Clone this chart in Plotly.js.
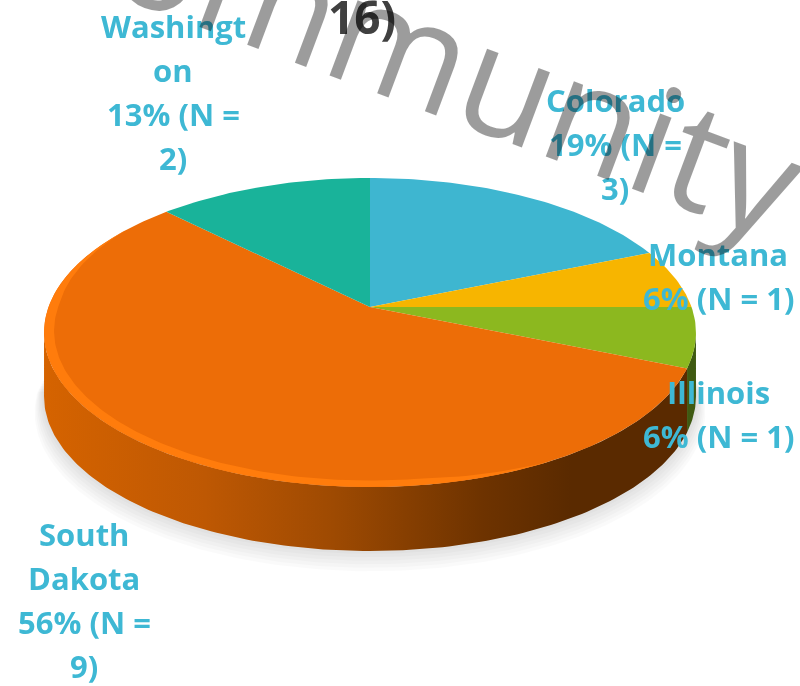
<!DOCTYPE html>
<html><head><meta charset="utf-8">
<script src="https://cdn.plot.ly/plotly-3.0.1.min.js"></script>
<style>html,body{margin:0;padding:0;background:#fff}#c{width:800px;height:686px}.main-svg{filter:blur(0.55px)}</style>
</head><body><div id="c"></div>
<script>
const categories = ['Colorado','Montana','Illinois','South Dakota','Washington'];
const counts = [3,1,1,9,2];
const sliceColors = ['#3EB6D0','#F7B500','#8CB81F','#ED6D07','#19B39A'];
const labelLines = [
  ['Colorado','19% (N =','3)'],
  ['Montana','6% (N = 1)'],
  ['Illinois','6% (N = 1)'],
  ['South','Dakota','56% (N =','9)'],
  ['Washingt','on','13% (N =','2)']
];
const labelX = [615,718,718,84,173];
const labelTop = [100,254,392,534,26];
const titleText = '16)';
const watermark = 'Community';

// view of the tilted disc
const cx=370, cy=307, a=321.5, b=150.3, k=0.165, depth=64;
const total = counts.reduce((s,v)=>s+v,0);
function P(share,r,dz){ // share: fraction of the circle clockwise from the top
  const t=share*2*Math.PI, u=r*Math.sin(t), v=r*Math.cos(t), w=1+k*v;
  return [cx+a*u/w, cy-b*v/w+(dz||0)];
}
function arc(s0,s1,r,dz,dx){
  const n=Math.max(2,Math.ceil(Math.abs(s1-s0)*360)), o=[];
  for(let i=0;i<=n;i++){
    const s=s0+(s1-s0)*i/n, rr=(typeof r==='function')?r(s):r, p=P(s,rr,dz);
    o.push([p[0]+(dx||0),p[1]]);
  }
  return o;
}
function poly(pts,extra){
  return Object.assign({type:'scatter',mode:'lines',x:pts.map(p=>p[0]),y:pts.map(p=>p[1]),
    fill:'toself',line:{width:0},hoverinfo:'skip',showlegend:false},extra);
}
const rightMost=(Math.PI/2+Math.asin(k))/(2*Math.PI), leftMost=1-rightMost;
let cum=[0]; counts.forEach(v=>cum.push(cum[cum.length-1]+v/total));

const traces=[];
// soft shadow
for(let i=0;i<8;i++){
  const pts=arc(rightMost-0.02,leftMost+0.02,1+0.004*i,depth-4+2.6*i,0);
  traces.push(poly(pts,{fillcolor:'rgba(0,0,0,0.02)'}));
}
// side wall
const wallGreen=arc(rightMost,cum[3],1).concat(arc(cum[3],rightMost,1,depth));
traces.push(poly(wallGreen,{fillcolor:'#3f5a12'}));
const wallOrange=arc(cum[3],leftMost,1).concat(arc(leftMost,cum[3],1,depth));
traces.push(poly(wallOrange,{fillgradient:{type:'horizontal',colorscale:[
  [0,'#D56300'],[0.25,'#BE5803'],[0.45,'#9E4A02'],[0.68,'#6E3300'],[0.82,'#5A2A00'],[1,'#5A2A00']]}}));
// top faces
counts.forEach((v,i)=>{
  traces.push(poly([[cx,cy]].concat(arc(cum[i],cum[i+1],1)),{fillcolor:sliceColors[i],name:categories[i]}));
});
// lit rim on the largest slice, tapering towards its ends
const rimStart=0.42, rimEnd=cum[4]-0.03;
const rimInner=s=>1-0.03*Math.min(Math.max(0,(rimEnd-s)/0.09),Math.max(0,(s-rimStart)/0.06),1);
const rim=arc(rimStart,rimEnd,1).concat(arc(rimEnd,rimStart,rimInner));
traces.push(poly(rim,{fillcolor:'#FF7C0C'}));

const annotations=[];
labelLines.forEach((lines,i)=>lines.forEach((s,j)=>annotations.push({
  x:labelX[i],y:labelTop[i]+44*j,xref:'x',yref:'y',text:s,showarrow:false,xanchor:'center',yanchor:'middle',
  font:{family:'"Open Sans", sans-serif',size:31,color:'#3EB8D4',weight:700}
})));
annotations.push({x:416,y:46,xref:'x',yref:'y',text:watermark,showarrow:false,textangle:20.5,
  xanchor:'center',yanchor:'middle',font:{family:'"Open Sans", sans-serif',size:150,color:'rgba(0,0,0,0.39)'}});

Plotly.newPlot('c',traces,{
  width:800,height:686,margin:{l:0,r:0,t:0,b:0},paper_bgcolor:'#fff',plot_bgcolor:'#fff',showlegend:false,
  title:{text:titleText,x:362/800,y:1-18/686,xanchor:'center',yanchor:'middle',
    font:{family:'"Open Sans", sans-serif',size:46,color:'#404040',weight:700}},
  xaxis:{range:[0,800],visible:false,fixedrange:true},
  yaxis:{range:[686,0],visible:false,fixedrange:true},
  annotations:annotations
},{displayModeBar:false,staticPlot:true});
</script></body></html>
